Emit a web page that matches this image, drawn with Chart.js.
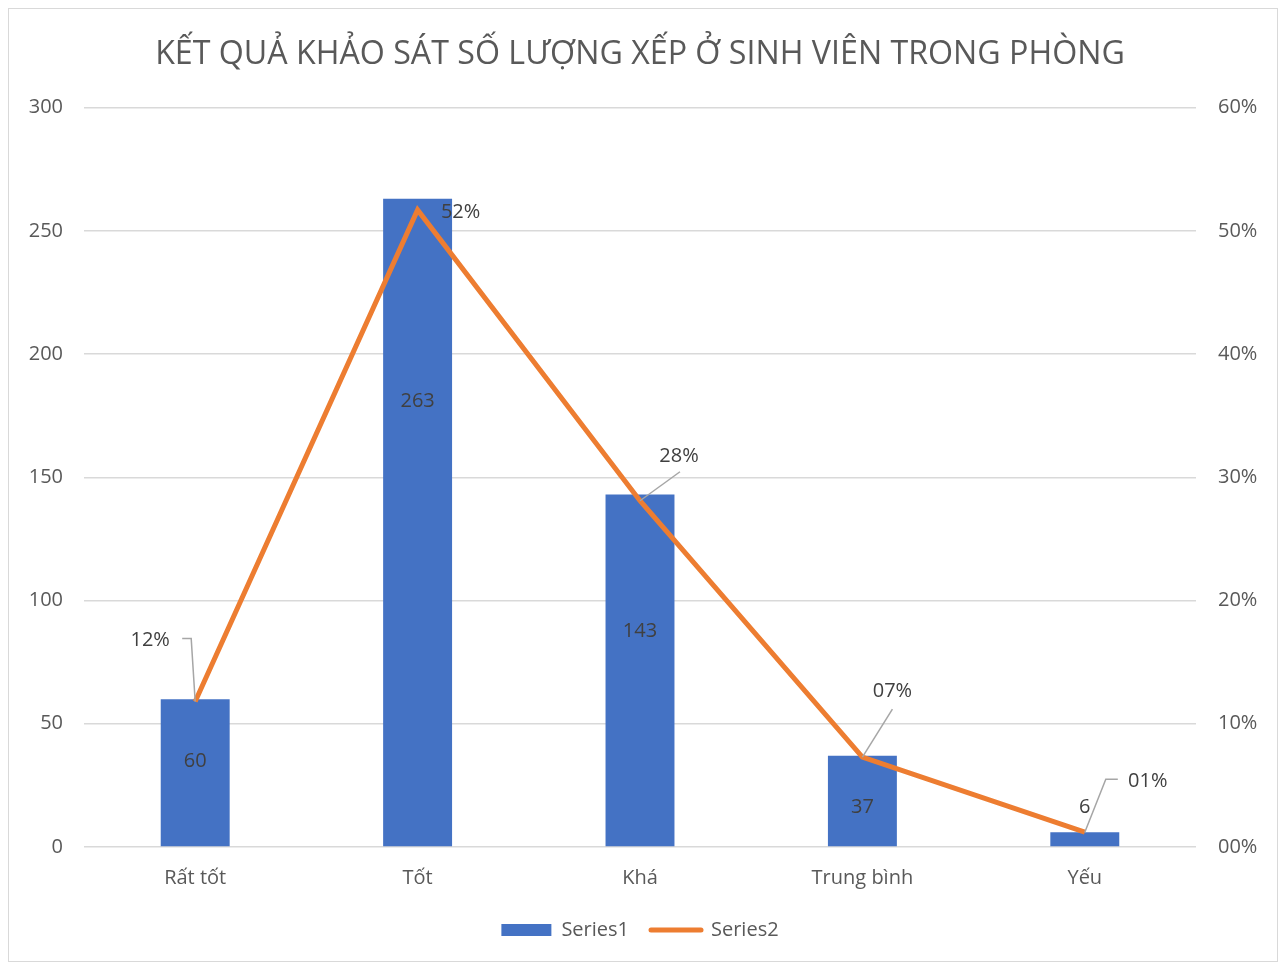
<!DOCTYPE html>
<html>
<head>
<meta charset="utf-8">
<script src="https://cdn.jsdelivr.net/npm/chart.js@4/dist/chart.umd.min.js"></script>
<style>
  html, body { margin: 0; padding: 0; background: #ffffff; }
  #wrap { position: absolute; left: 0; top: 0; width: 1280px; height: 964px; }
</style>
</head>
<body>
<div id="wrap"><canvas id="c" width="1280" height="964"></canvas></div>
<script>
const categories = ['Rất tốt', 'Tốt', 'Khá', 'Trung bình', 'Yếu'];
const series1 = [60, 263, 143, 37, 6];
const series2 = [11.8, 51.7, 28.1, 7.3, 1.2];
const seriesNames = ['Series1', 'Series2'];
const titleText = 'KẾT QUẢ KHẢO SÁT SỐ LƯỢNG XẾP Ở SINH VIÊN TRONG PHÒNG';
const leftAxis = { min: 0, max: 300, step: 50 };
const rightAxis = { min: 0, max: 60, step: 10 };

const FONT = "'Open Sans', 'Noto Sans', sans-serif";
const TEXT = '#595959';
const LABEL = '#404040';

const pct = v => String(Math.round(v)).padStart(2, '0') + '%';

const frame = {
  id: 'frame',
  beforeDraw(chart) {
    const ctx = chart.ctx;
    ctx.save();
    ctx.fillStyle = '#ffffff';
    ctx.fillRect(0, 0, chart.width, chart.height);
    ctx.strokeStyle = '#D9D9D9';
    ctx.lineWidth = 1;
    ctx.strokeRect(8.5, 8.5, 1269, 953);
    ctx.restore();
  }
};

const labelsPlugin = {
  id: 'labels',
  afterDatasetsDraw(chart) {
    const ctx = chart.ctx;
    ctx.save();
    ctx.font = '20px ' + FONT;
    ctx.fillStyle = LABEL;
    ctx.textAlign = 'center';
    ctx.textBaseline = 'middle';
    // bar labels
    const barOff = [-11, -121, -39, 6, -32];
    const bm = chart.getDatasetMeta(0);
    bm.data.forEach((el, i) => {
      const y = (el.y + el.base) / 2 + barOff[i];
      ctx.fillText(String(series1[i]), el.x, y);
    });
    // line labels with leaders
    const lineOff = [[-45, -61], [43, 2], [39, -44], [30, -66], [63, -51]];
    const leaders = [
      [[-13, -63], [-4, -63], [0, 0]],
      null,
      [[40, -29], [0, 0]],
      [[30, -48], [0, 0]],
      [[33, -53], [21, -53], [0, 0]]
    ];
    const lm = chart.getDatasetMeta(1);
    lm.data.forEach((el, i) => {
      const L = leaders[i];
      if (L) {
        ctx.beginPath();
        ctx.strokeStyle = '#A6A6A6';
        ctx.lineWidth = 1.5;
        L.forEach((p, k) => {
          if (k === 0) ctx.moveTo(el.x + p[0], el.y + p[1]);
          else ctx.lineTo(el.x + p[0], el.y + p[1]);
        });
        ctx.stroke();
      }
      ctx.fillStyle = LABEL;
      ctx.fillText(pct(series2[i]), el.x + lineOff[i][0], el.y + lineOff[i][1]);
    });
    ctx.restore();
  }
};

new Chart(document.getElementById('c'), {
  data: {
    labels: categories,
    datasets: [
      {
        type: 'bar',
        label: seriesNames[0],
        data: series1,
        backgroundColor: '#4472C4',
        borderWidth: 0,
        categoryPercentage: 1,
        barPercentage: 0.31,
        yAxisID: 'y',
        order: 1
      },
      {
        type: 'line',
        label: seriesNames[1],
        data: series2,
        borderColor: '#ED7D31',
        backgroundColor: '#ED7D31',
        borderWidth: 5,
        pointRadius: 0,
        tension: 0,
        yAxisID: 'y1',
        order: 0
      }
    ]
  },
  options: {
    responsive: false,
    animation: false,
    devicePixelRatio: 1,
    layout: { padding: { left: 0, right: 0, top: 0, bottom: 14 } },
    scales: {
      x: {
        grid: { display: false, drawTicks: false },
        border: { display: false },
        ticks: { color: TEXT, font: { family: FONT, size: 20 }, padding: 19 },
        afterFit(s) { s.height = 51; }
      },
      y: {
        position: 'left',
        min: leftAxis.min, max: leftAxis.max,
        ticks: { stepSize: leftAxis.step, color: TEXT, font: { family: FONT, size: 20 }, padding: 21 },
        grid: { color: '#D9D9D9', lineWidth: 1.5, drawTicks: false },
        border: { display: false },
        afterFit(s) { s.width = 84; }
      },
      y1: {
        position: 'right',
        min: rightAxis.min, max: rightAxis.max,
        ticks: { stepSize: rightAxis.step, color: TEXT, font: { family: FONT, size: 20 }, padding: 22,
          callback: v => pct(v) },
        grid: { display: false, drawTicks: false },
        border: { display: false },
        afterFit(s) { s.width = 84; }
      }
    },
    plugins: {
      title: {
        display: true,
        text: titleText,
        color: TEXT,
        font: { family: FONT, size: 32.2, weight: 'normal' },
        padding: { top: 36, bottom: 33 }
      },
      legend: {
        position: 'bottom',
        labels: {
          color: TEXT,
          font: { family: FONT, size: 20 },
          usePointStyle: true,
          pointStyleWidth: 50,
          boxHeight: 12,
          padding: 22,
          sort: (a, b) => a.datasetIndex - b.datasetIndex,
          generateLabels(chart) {
            return chart.data.datasets.map((ds, i) => ({
              text: ds.label,
              datasetIndex: i,
              fillStyle: ds.type === 'bar' ? ds.backgroundColor : ds.borderColor,
              strokeStyle: ds.type === 'bar' ? ds.backgroundColor : ds.borderColor,
              lineWidth: ds.type === 'bar' ? 0 : 5,
              lineCap: 'round',
              pointStyle: ds.type === 'bar' ? 'rect' : 'line',
              fontColor: TEXT,
              hidden: false
            }));
          }
        }
      },
      tooltip: { enabled: false }
    }
  },
  plugins: [frame, labelsPlugin]
});
</script>
</body>
</html>
